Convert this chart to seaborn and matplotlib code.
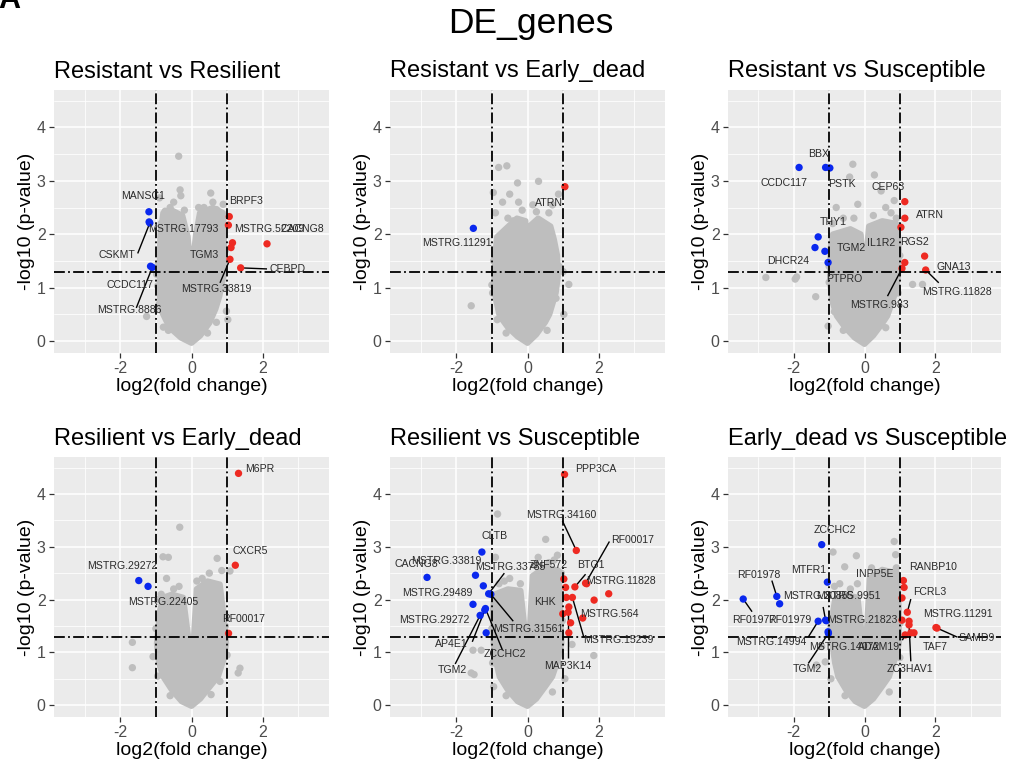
import matplotlib
matplotlib.use('Agg')
import matplotlib.pyplot as plt
import seaborn as sns
import pandas as pd

sns.set_theme(style='white')
plt.rcParams['font.family'] = ['Liberation Sans', 'DejaVu Sans']
plt.rcParams['axes.unicode_minus'] = False

FIG_TITLE = 'DE_genes'
PANEL_TITLES = ['Resistant vs Resilient', 'Resistant vs Early_dead', 'Resistant vs Susceptible',
                'Resilient vs Early_dead', 'Resilient vs Susceptible', 'Early_dead vs Susceptible']
X_TICKS = [-2, 0, 2]
Y_TICKS = [0, 1, 2, 3, 4]
FC_CUT = 1.0
P_CUT = 1.3

# ---------------- Panel 1: Resistant vs Resilient ----------------
p1_cloud_x = [0.00, 0.25, 0.51, 0.68, 0.79, 0.90, 0.93, 0.92, 0.89, 0.60, 0.23, 0.12, 0.03, -0.03, -0.10, -0.25, -0.55, -0.80, -0.88, -0.90, -0.90, -0.84, -0.62, -0.30]
p1_cloud_y = [-0.04, 0.10, 0.34, 0.60, 0.84, 1.20, 1.46, 1.90, 2.40, 2.50, 2.40, 2.00, 1.45, 1.45, 1.95, 2.35, 2.45, 2.40, 2.00, 1.60, 0.84, 0.55, 0.25, 0.06]
p1_grey_x = [-0.36, -0.32, -0.30, 0.54, -0.90, -0.74, 0.70, 0.89, -1.26, -0.79, 0.98, 1.02, -0.95, -0.50, 0.35, -0.98,
             -0.85, -0.60, -0.20, 0.20, 0.60, 0.95, 0.97, 0.70, -0.92, -0.90, -0.65, 0.45]
p1_grey_y = [3.46, 2.83, 2.72, 2.77, 2.68, 2.43, 2.46, 2.56, 0.46, 0.26, 0.56, 0.40, 1.03, 2.60, 2.50, 1.25,
             2.20, 2.50, 2.45, 2.50, 2.60, 1.70, 1.00, 0.35, 1.45, 0.70, 0.20, 0.15]
p1_down_genes = ['MANSC1', 'MSTRG.17793', 'CSKMT', 'CCDC117', 'MSTRG.8886']
p1_down_x = [-1.195, -1.19, -1.17, -1.15, -1.10]
p1_down_y = [2.42, 2.23, 2.21, 1.40, 1.38]
p1_up_genes = ['BRPF3', 'MSTRG.52209', 'CACNG8', 'TGM3', '', 'CEBPD', 'MSTRG.33819']
p1_up_x = [1.06, 1.035, 2.12, 1.15, 1.11, 1.38, 1.08]
p1_up_y = [2.33, 2.17, 1.82, 1.84, 1.75, 1.37, 1.53]
P1_LABELS = {  # gene: (label x, label y, segment start x, segment start y)
    'MANSC1': (-1.36, 2.72, None, None),
    'MSTRG.17793': (-0.24, 2.10, None, None),
    'CSKMT': (-2.10, 1.62, -1.51, 1.64),
    'CCDC117': (-1.73, 1.05, None, None),
    'MSTRG.8886': (-1.73, 0.58, -1.55, 0.62),
    'BRPF3': (1.53, 2.62, None, None),
    'MSTRG.52209': (2.19, 2.10, None, None),
    'CACNG8': (3.10, 2.10, None, None),
    'TGM3': (0.35, 1.62, None, None),
    'CEBPD': (2.70, 1.35, 2.12, 1.35),
    'MSTRG.33819': (0.69, 0.98, 0.80, 1.09),
}

# ---------------- Panel 2: Resistant vs Early_dead ----------------
p2_cloud_x = [0.00, 0.25, 0.50, 0.62, 0.80, 0.86, 0.84, 0.75, 0.65, 0.30, 0.05, 0.02, -0.02, -0.05, -0.30, -0.70, -0.86, -0.90, -0.94, -0.90, -0.79, -0.55, -0.28]
p2_cloud_y = [-0.04, 0.12, 0.35, 0.50, 0.90, 1.20, 1.60, 1.90, 2.15, 2.30, 2.15, 1.30, 1.30, 2.25, 2.30, 2.05, 1.95, 1.70, 1.10, 0.80, 0.47, 0.25, 0.08]
p2_grey_x = [-1.58, -0.81, -0.58, -0.28, 0.31, -0.96, -0.70, -0.50, -0.25, -0.90, 0.15, 0.60, 0.70, 0.87, 1.16, 1.00, -1.00, 1.02, -0.55, -0.40,
             -0.95, -0.98, -0.85, 0.88, 0.80, 0.55, -0.15, 0.25, -0.60]
p2_grey_y = [0.66, 3.25, 3.28, 2.96, 2.99, 2.78, 2.60, 2.75, 2.60, 2.40, 2.55, 2.40, 2.55, 2.75, 1.06, 1.30, 1.05, 0.50, 2.30, 2.25,
             1.50, 0.90, 0.40, 1.40, 0.80, 0.20, 2.45, 2.42, 0.15]
p2_down_genes = ['MSTRG.11291']
p2_down_x = [-1.52]
p2_down_y = [2.11]
p2_up_genes = ['ATRN']
p2_up_x = [1.05]
p2_up_y = [2.89]
P2_LABELS = {
    'MSTRG.11291': (-1.98, 1.84, None, None),
    'ATRN': (0.60, 2.58, None, None),
}

# ---------------- Panel 3: Resistant vs Susceptible ----------------
p3_cloud_x = [0.00, 0.25, 0.50, 0.65, 0.85, 0.95, 0.98, 0.95, 0.90, 0.50, 0.12, 0.04, -0.04, -0.10, -0.40, -0.90, -0.97, -0.98, -0.92, -0.79, -0.55, -0.28]
p3_cloud_y = [-0.06, 0.10, 0.32, 0.47, 0.85, 1.15, 1.70, 2.00, 2.20, 2.25, 2.15, 1.50, 1.50, 2.00, 2.10, 2.00, 1.72, 1.09, 0.75, 0.47, 0.25, 0.06]
p3_grey_x = [-2.79, -1.96, -1.92, -1.38, -0.33, -0.42, 0.28, -0.19, 0.84, 1.36, 1.64, -1.03, 0.47, -0.80, -0.60, 0.60, 0.90, -0.90, -1.00,
             -0.30, 0.25, 0.75, 1.00, 0.95, -1.00, -0.85, 0.60, -0.60]
p3_grey_y = [1.19, 1.16, 1.20, 0.83, 3.31, 3.07, 3.11, 2.56, 2.63, 1.06, 1.06, 0.28, 2.81, 2.50, 2.30, 2.50, 2.30, 2.20, 1.10,
             2.30, 2.35, 2.40, 1.60, 0.90, 1.40, 0.55, 0.25, 0.20]
p3_down_genes = ['CCDC117', 'BBX', 'PSTK', 'THY1', 'DHCR24', 'TGM2', 'PTPRO']
p3_down_x = [-1.85, -1.10, -0.98, -1.31, -1.40, -1.12, -1.03]
p3_down_y = [3.25, 3.25, 3.24, 1.95, 1.75, 1.68, 1.47]
p3_up_genes = ['CEP63', 'ATRN', 'IL1R2', 'RGS2', 'GNA13', 'MSTRG.11828', 'MSTRG.983']
p3_up_x = [1.14, 1.14, 1.03, 1.14, 1.70, 1.73, 1.06]
p3_up_y = [2.61, 2.30, 2.13, 1.47, 1.59, 1.33, 1.36]
P3_LABELS = {
    'CCDC117': (-2.29, 2.95, None, None),
    'BBX': (-1.31, 3.51, None, None),
    'PSTK': (-0.65, 2.94, None, None),
    'THY1': (-0.88, 2.23, None, None),
    'DHCR24': (-2.17, 1.49, None, None),
    'TGM2': (-0.38, 1.74, None, None),
    'PTPRO': (-0.56, 1.17, None, None),
    'CEP63': (0.68, 2.89, None, None),
    'ATRN': (1.85, 2.36, None, None),
    'IL1R2': (0.47, 1.84, None, None),
    'RGS2': (1.40, 1.86, None, None),
    'GNA13': (2.52, 1.39, None, None),
    'MSTRG.11828': (2.60, 0.91, 2.10, 1.09),
    'MSTRG.983': (0.42, 0.67, 0.65, 0.84),
}

# ---------------- Panel 4: Resilient vs Early_dead ----------------
p4_cloud_x = [0.00, 0.25, 0.52, 0.75, 0.90, 0.98, 0.89, 0.80, 0.45, 0.14, 0.04, -0.04, -0.23, -0.55, -0.80, -0.89, -0.98, -0.92, -0.80, -0.55, -0.28]
p4_cloud_y = [-0.02, 0.12, 0.35, 0.54, 0.85, 1.17, 1.79, 2.29, 2.35, 2.20, 1.05, 1.05, 2.04, 2.10, 2.04, 1.79, 1.17, 0.80, 0.54, 0.28, 0.07]
p4_grey_x = [-0.33, -0.80, -0.65, -1.66, -1.66, 0.72, 1.08, 1.31, 1.36, -1.08, -0.95, -0.70, -0.50, 0.50, 0.85, -0.85, 0.30,
             -0.35, 0.15, 0.95, 1.00, 0.80, -1.00, -0.95, 0.55, -0.60]
p4_grey_y = [3.37, 2.81, 2.80, 1.19, 0.71, 2.78, 2.54, 0.61, 0.70, 0.92, 0.55, 2.40, 2.20, 2.50, 2.55, 2.10, 2.40,
             2.25, 2.35, 1.50, 0.95, 0.45, 1.45, 2.00, 0.20, 0.18]
p4_down_genes = ['MSTRG.29272', 'MSTRG.22405']
p4_down_x = [-1.48, -1.22]
p4_down_y = [2.36, 2.25]
p4_up_genes = ['M6PR', 'CXCR5', 'RF00017']
p4_up_x = [1.32, 1.23, 1.04]
p4_up_y = [4.39, 2.65, 1.36]
P4_LABELS = {
    'MSTRG.29272': (-1.95, 2.64, None, None),
    'MSTRG.22405': (-0.80, 1.95, None, None),
    'M6PR': (1.92, 4.47, None, None),
    'CXCR5': (1.66, 2.92, None, None),
    'RF00017': (1.47, 1.63, None, None),
}

# ---------------- Panel 5: Resilient vs Susceptible ----------------
p5_cloud_x = [0.00, 0.25, 0.50, 0.70, 0.88, 0.96, 0.93, 0.88, 0.50, 0.14, 0.04, -0.04, -0.19, -0.55, -0.93, -0.98, -0.96, -0.88, -0.79, -0.55, -0.28]
p5_cloud_y = [-0.02, 0.12, 0.35, 0.54, 0.90, 1.17, 1.79, 2.55, 2.62, 2.45, 1.23, 1.23, 2.17, 2.20, 2.10, 1.79, 1.17, 0.80, 0.54, 0.28, 0.07]
p5_grey_x = [-0.84, 0.51, -1.53, -1.30, -1.58, -1.50, 1.86, 1.25, 0.84, 0.30, 0.60, -0.90, -0.50, -0.80, -0.20, 0.95, 1.05, -0.95,
             -0.65, 0.20, 0.75, 0.98, -1.00, -0.98, 0.70, -0.60]
p5_grey_y = [3.62, 3.14, 1.04, 1.04, 0.61, 0.58, 0.94, 1.15, 2.84, 2.80, 2.70, 2.80, 2.40, 2.30, 2.30, 2.50, 0.50, 0.35,
             2.35, 2.65, 2.75, 1.60, 1.45, 0.80, 0.25, 0.18]
p5_down_genes = ['CACNG8', 'CLTB', 'MSTRG.33819', 'MSTRG.29489', 'MSTRG.33785', 'MSTRG.31561',
                 'MSTRG.29272', 'ZCCHC2', 'AP4E1', 'TGM2', '']
p5_down_x = [-2.82, -1.28, -1.46, -1.24, -1.09, -1.03, -1.53, -1.18, -1.20, -1.33, -1.16]
p5_down_y = [2.42, 2.90, 2.46, 2.26, 2.11, 2.10, 1.91, 1.83, 1.80, 1.70, 1.37]
p5_up_genes = ['PPP3CA', 'MSTRG.34160', 'RF00017', 'MSTRG.11828', 'BTG1', 'ZNF572', 'KHK', 'MSTRG.564',
               'MSTRG.15239', 'MAP3K14', '', '', '', '', '', '', '']
p5_up_x = [1.04, 1.37, 1.63, 1.66, 1.33, 1.02, 1.09, 1.55, 1.26, 1.14, 2.28, 1.87, 1.07, 1.16, 0.99, 1.21, 1.16]
p5_up_y = [4.37, 2.93, 2.31, 2.30, 2.24, 2.39, 2.04, 1.65, 2.04, 1.76, 2.11, 1.99, 2.23, 1.86, 1.73, 1.56, 1.37]
P5_LABELS = {
    'CACNG8': (-3.12, 2.67, None, None),
    'CLTB': (-0.92, 3.20, None, None),
    'MSTRG.33819': (-2.28, 2.73, None, None),
    'MSTRG.29489': (-2.52, 2.12, None, None),
    'MSTRG.33785': (-0.49, 2.62, -0.65, 2.50),
    'MSTRG.31561': (0.01, 1.45, -0.40, 1.59),
    'MSTRG.29272': (-2.63, 1.62, None, None),
    'ZCCHC2': (-0.64, 0.96, -0.70, 1.04),
    'AP4E1': (-2.13, 1.15, -1.55, 1.20),
    'TGM2': (-2.12, 0.67, -2.03, 0.78),
    'PPP3CA': (1.91, 4.47, None, None),
    'MSTRG.34160': (0.94, 3.61, 0.98, 3.49),
    'RF00017': (2.95, 3.13, 2.30, 3.10),
    'MSTRG.11828': (2.63, 2.36, None, None),
    'BTG1': (1.77, 2.65, 1.63, 2.48),
    'ZNF572': (0.59, 2.66, None, None),
    'KHK': (0.48, 1.95, None, None),
    'MSTRG.564': (2.31, 1.73, None, None),
    'MSTRG.15239': (2.56, 1.23, 1.58, 1.29),
    'MAP3K14': (1.14, 0.74, 1.14, 0.89),
}

# ---------------- Panel 6: Early_dead vs Susceptible ----------------
p6_cloud_x = [0.00, 0.25, 0.50, 0.70, 0.88, 0.98, 0.98, 0.93, 0.50, 0.14, 0.04, -0.04, -0.19, -0.55, -0.84, -0.89, -0.92, -0.84, -0.75, -0.52, -0.26]
p6_cloud_y = [-0.02, 0.12, 0.35, 0.54, 0.90, 1.17, 1.79, 2.50, 2.57, 2.40, 1.17, 1.17, 2.04, 2.10, 2.00, 1.79, 1.17, 0.80, 0.54, 0.28, 0.07]
p6_grey_x = [-0.89, -0.56, -0.23, 0.84, 0.88, 0.40, -1.21, -1.36, -1.11, -0.70, -0.40, 0.90, 0.65, 1.00, -0.95,
             -0.85, 0.20, 1.00, -0.95, 0.70, -0.55, -0.20]
p6_grey_y = [2.90, 2.62, 2.83, 3.10, 2.85, 2.50, 1.11, 0.76, 0.82, 2.30, 2.20, 2.60, 2.45, 0.90, 0.50,
             2.25, 2.60, 1.55, 1.50, 0.25, 0.18, 2.30]
p6_down_genes = ['ZCCHC2', 'MTFR1', 'RF01978', 'RF01977', 'RF01979', 'MSTRG.20855', 'MSTRG.21823',
                 'MSTRG.14994', 'MSTRG.14072', 'TGM2']
p6_down_x = [-1.21, -1.05, -2.48, -3.43, -2.40, -1.10, -1.08, -1.31, -1.03, -1.02]
p6_down_y = [3.04, 2.33, 2.06, 2.01, 1.92, 1.61, 1.60, 1.59, 1.39, 1.36]
p6_up_genes = ['RANBP10', 'INPP5E', 'MSTRG.9951', 'FCRL3', 'MSTRG.11291', 'SAMD9', 'TAF7', 'ZC3HAV1',
               'ADAM19', '', '', '']
p6_up_x = [1.10, 1.12, 1.06, 1.21, 2.02, 2.05, 1.40, 1.26, 1.15, 1.26, 1.06, 1.31]
p6_up_y = [2.36, 2.23, 2.03, 1.76, 1.47, 1.46, 1.37, 1.52, 1.33, 1.59, 1.61, 1.37]
P6_LABELS = {
    'ZCCHC2': (-0.83, 3.31, None, None),
    'MTFR1': (-1.57, 2.56, None, None),
    'RF01978': (-3.00, 2.47, -2.62, 2.36),
    'RF01977': (-3.13, 1.61, -3.18, 1.77),
    'RF01979': (-2.10, 1.61, None, None),
    'MSTRG.20855': (-1.30, 2.06, -1.17, 1.86),
    'MSTRG.21823': (-0.06, 1.61, None, None),
    'MSTRG.14994': (-2.64, 1.20, -1.59, 1.29),
    'MSTRG.14072': (-0.56, 1.11, None, None),
    'TGM2': (-1.62, 0.69, -1.59, 0.79),
    'RANBP10': (1.93, 2.61, None, None),
    'INPP5E': (0.30, 2.48, None, None),
    'MSTRG.9951': (-0.45, 2.06, None, None),
    'FCRL3': (1.85, 2.14, 1.31, 2.01),
    'MSTRG.11291': (2.64, 1.72, None, None),
    'SAMD9': (3.16, 1.28, 2.62, 1.29),
    'TAF7': (1.99, 1.11, None, None),
    'ZC3HAV1': (1.29, 0.69, 1.31, 0.83),
    'ADAM19': (0.42, 1.11, 1.07, 1.23),
}

PANELS = [
    (p1_cloud_x, p1_cloud_y, p1_grey_x, p1_grey_y, p1_down_genes, p1_down_x, p1_down_y, p1_up_genes, p1_up_x, p1_up_y, P1_LABELS),
    (p2_cloud_x, p2_cloud_y, p2_grey_x, p2_grey_y, p2_down_genes, p2_down_x, p2_down_y, p2_up_genes, p2_up_x, p2_up_y, P2_LABELS),
    (p3_cloud_x, p3_cloud_y, p3_grey_x, p3_grey_y, p3_down_genes, p3_down_x, p3_down_y, p3_up_genes, p3_up_x, p3_up_y, P3_LABELS),
    (p4_cloud_x, p4_cloud_y, p4_grey_x, p4_grey_y, p4_down_genes, p4_down_x, p4_down_y, p4_up_genes, p4_up_x, p4_up_y, P4_LABELS),
    (p5_cloud_x, p5_cloud_y, p5_grey_x, p5_grey_y, p5_down_genes, p5_down_x, p5_down_y, p5_up_genes, p5_up_x, p5_up_y, P5_LABELS),
    (p6_cloud_x, p6_cloud_y, p6_grey_x, p6_grey_y, p6_down_genes, p6_down_x, p6_down_y, p6_up_genes, p6_up_x, p6_up_y, P6_LABELS),
]

GREY = '#BEBEBE'
RED = '#EE2A22'
BLUE = '#0A28EE'
BG = '#EBEBEB'
DOTDASH = (0, (6.0, 1.8, 1.0, 1.8))

W, H = 1013, 768
COL_L = [54, 390, 728]
COL_W = [275, 275, 273]
ROW_T = [90, 457]
ROW_H = [263, 260]

fig = plt.figure(figsize=(W / 100, H / 100), dpi=100)

for i, (cx, cy, gx, gy, dg, dx, dy, ug, ux, uy, labels) in enumerate(PANELS):
    r, c = divmod(i, 3)
    ax = fig.add_axes([COL_L[c] / W, 1 - (ROW_T[r] + ROW_H[r]) / H, COL_W[c] / W, ROW_H[r] / H])
    ax.set_facecolor(BG)
    for s in ax.spines.values():
        s.set_visible(False)

    # dense core of non-significant genes
    ax.fill(cx, cy, color=GREY, ec=GREY, lw=4.0, joinstyle='round', zorder=2)
    grey_df = pd.DataFrame({'x': gx, 'y': gy})
    sns.scatterplot(data=grey_df, x='x', y='y', color=GREY, s=28, edgecolor='none', ax=ax,
                    legend=False, zorder=2.1)

    # segments
    for genes, xs, ys in ((dg, dx, dy), (ug, ux, uy)):
        for g, px, py in zip(genes, xs, ys):
            if g and g in labels:
                lx, ly, sx, sy = labels[g]
                if sx is not None:
                    ax.plot([sx, px], [sy, py], color='black', lw=1.0, zorder=2.3,
                            solid_capstyle='butt')

    down_df = pd.DataFrame({'x': dx, 'y': dy})
    up_df = pd.DataFrame({'x': ux, 'y': uy})
    sns.scatterplot(data=down_df, x='x', y='y', color=BLUE, s=28, edgecolor='none', ax=ax,
                    legend=False, zorder=2.6)
    sns.scatterplot(data=up_df, x='x', y='y', color=RED, s=28, edgecolor='none', ax=ax,
                    legend=False, zorder=2.6)

    ax.axvline(-FC_CUT, color='black', lw=1.3, ls=DOTDASH, zorder=3)
    ax.axvline(FC_CUT, color='black', lw=1.3, ls=DOTDASH, zorder=3)
    ax.axhline(P_CUT, color='black', lw=1.3, ls=DOTDASH, zorder=3)

    for genes, xs, ys in ((dg, dx, dy), (ug, ux, uy)):
        for g, px, py in zip(genes, xs, ys):
            if g and g in labels:
                lx, ly, sx, sy = labels[g]
                ax.text(lx, ly, g, ha='center', va='center', fontsize=7.6, color='#2a2a2a',
                        zorder=5, clip_on=False)

    ax.set_xlim(-3.86, 3.86)
    ax.set_ylim(-0.224, 4.70)
    ax.set_xticks(X_TICKS)
    ax.set_xticklabels([str(t) for t in X_TICKS])
    ax.set_yticks(Y_TICKS)
    ax.set_yticklabels([str(t) for t in Y_TICKS])
    ax.set_xticks([-3, -1, 1, 3], minor=True)
    ax.set_yticks([0.5, 1.5, 2.5, 3.5, 4.5], minor=True)
    ax.grid(which='major', color='white', lw=1.1, zorder=0)
    ax.grid(which='minor', color='white', lw=0.55, zorder=0)
    ax.set_axisbelow(True)
    ax.tick_params(which='major', length=3.5, width=0.9, color='#333333', labelsize=11.5,
                   labelcolor='#4D4D4D', pad=2.5, bottom=True, left=True)
    ax.tick_params(which='minor', length=0)
    ax.set_xlabel('log2(fold change)', fontsize=14, color='black', labelpad=1)
    ax.set_ylabel('-log10 (p-value)', fontsize=14, color='black', labelpad=1)
    ax.set_title(PANEL_TITLES[i], loc='left', fontsize=17, pad=9, color='black')

fig.text(531 / W, 1 - 24 / H, FIG_TITLE, ha='center', va='center', fontsize=25.5, color='black')
fig.text(-0.002, 1 - 8 / H, 'A', ha='left', va='baseline', fontsize=22, fontweight='bold', color='black')

fig.savefig('out.png', dpi=100)
